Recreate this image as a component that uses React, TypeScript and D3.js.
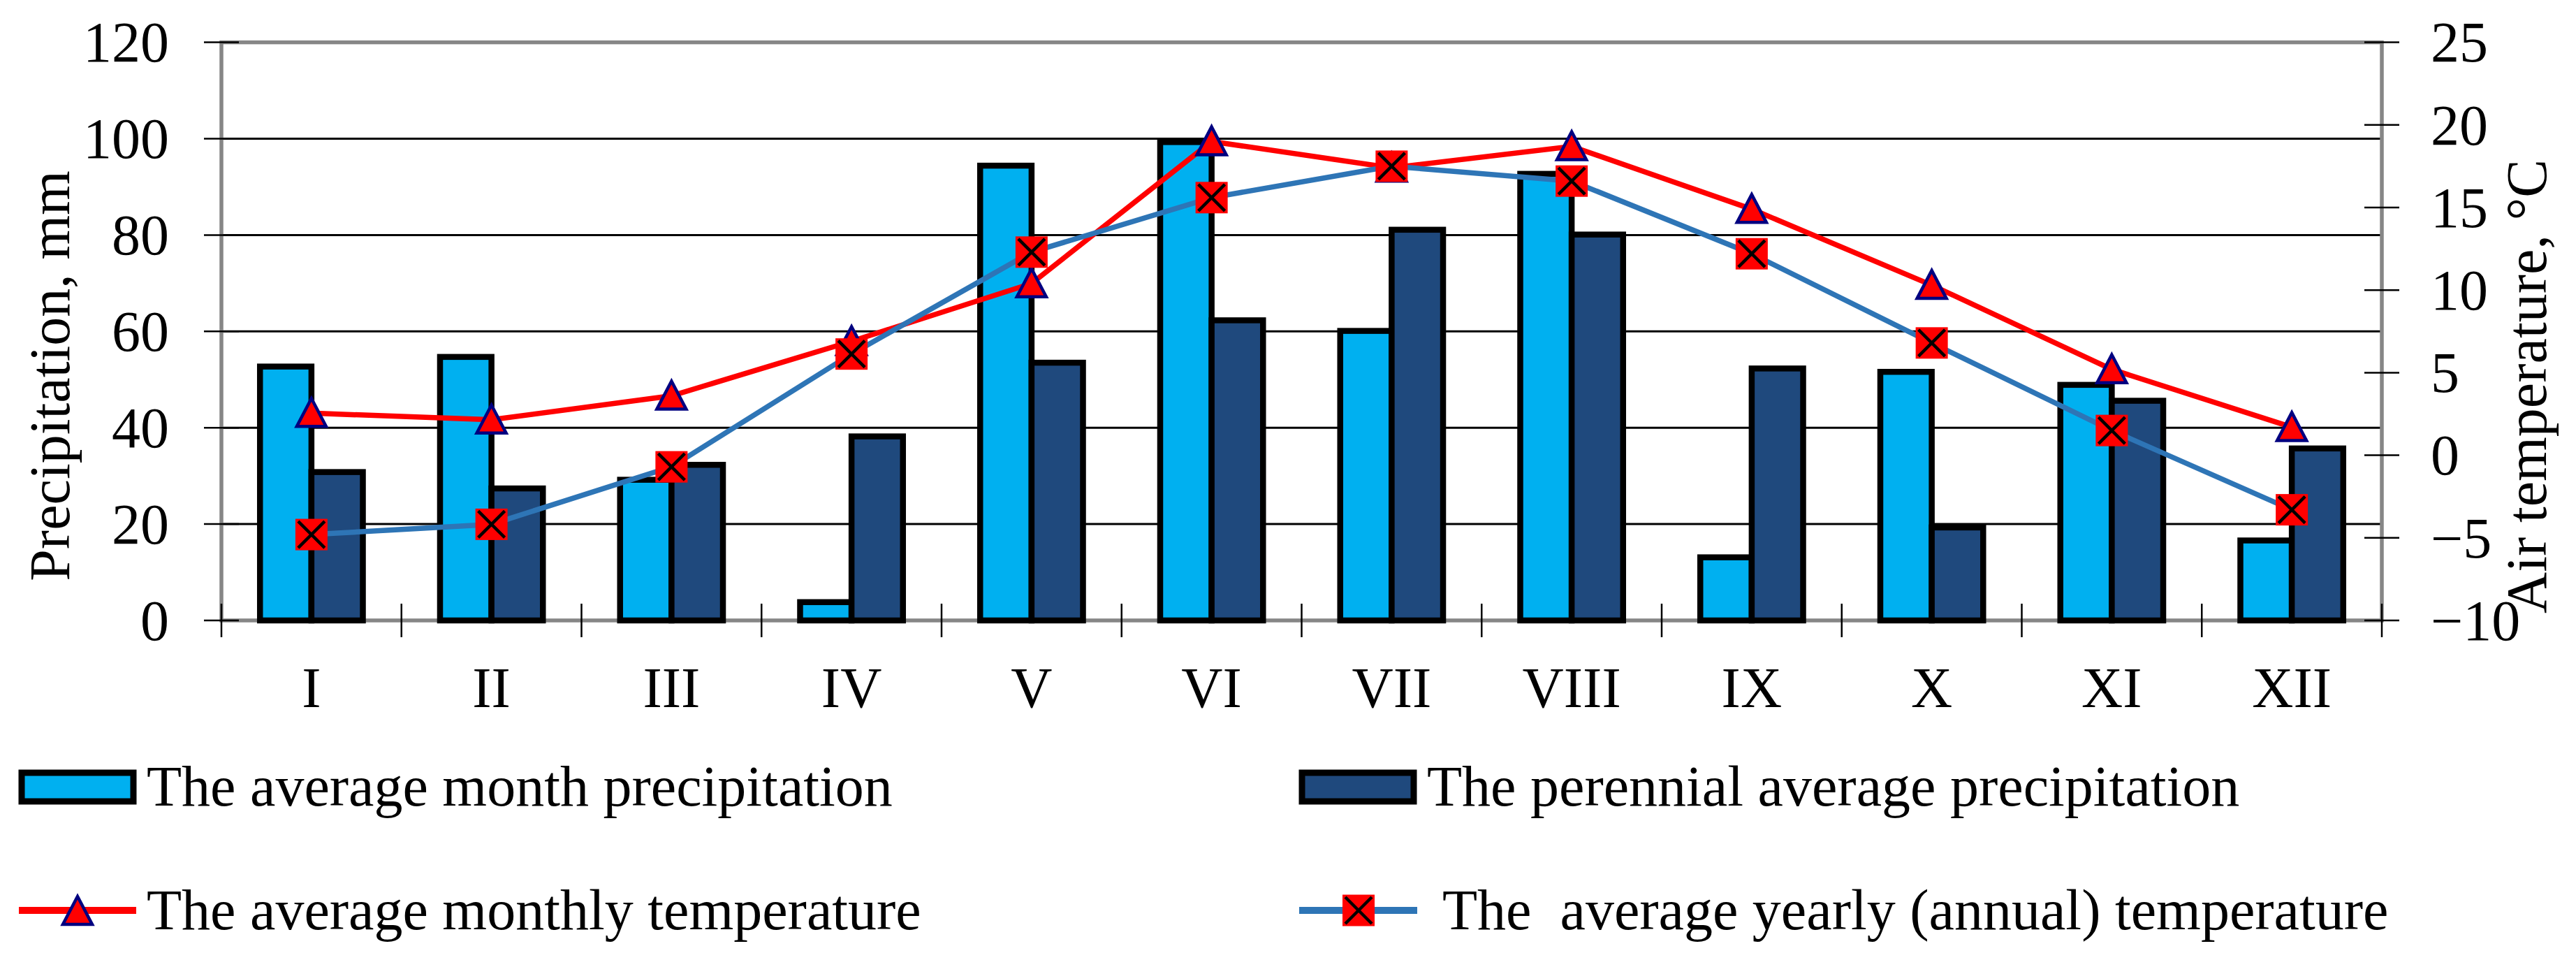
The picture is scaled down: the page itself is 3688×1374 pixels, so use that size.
// Precipitation & air temperature by month - bars + two temperature lines
import React, { useEffect, useRef } from 'react';
import * as d3 from 'd3';

const months = ['I', 'II', 'III', 'IV', 'V', 'VI', 'VII', 'VIII', 'IX', 'X', 'XI', 'XII'];
const monthPrecip = [52.7, 54.7, 29.2, 3.8, 94.4, 99.3, 60.1, 92.7, 13.1, 51.6, 48.9, 16.6];
const perennialPrecip = [30.8, 27.4, 32.3, 38.2, 53.5, 62.3, 81.1, 80.1, 52.3, 19.3, 45.6, 35.7];
const monthlyTemp = [2.55, 2.15, 3.6, 6.9, 10.4, 19.0, 17.4, 18.7, 14.9, 10.3, 5.2, 1.7];
const yearlyTemp = [-4.8, -4.18, -0.7, 6.13, 12.3, 15.6, 17.5, 16.6, 12.2, 6.8, 1.5, -3.3];
const precipTicks = [0, 20, 40, 60, 80, 100, 120];
const tempTicks = [-10, -5, 0, 5, 10, 15, 20, 25];

const W = 3688;
const H = 1374;
const FONT = '"Liberation Serif", "Times New Roman", serif';
const FS = 82;

const App: React.FC = () => {
  const svgRef = useRef<SVGSVGElement>(null);

  useEffect(() => {
    if (!svgRef.current) return;
    const svg = d3.select(svgRef.current);
    svg.selectAll('*').remove();

    const left = 317, right = 3410, top = 60.6, bottom = 888;

    const x = d3.scaleBand<string>().domain(months).range([left, right]).padding(0);
    const y = d3.scaleLinear().domain([0, 120]).range([bottom, top]);
    const yT = d3.scaleLinear().domain([-10, 25]).range([bottom, top]);
    const bw = x.bandwidth() / 3.5; // gap width 150%
    const xSub = d3.scaleBand<string>().domain(['m', 'p']).range([0, 2 * bw]).padding(0);
    const cx = (m: string) => (x(m) as number) + x.bandwidth() / 2;

    svg.append('rect').attr('width', W).attr('height', H).attr('fill', '#fff');

    // gridlines (black)
    svg.append('g').selectAll('line')
      .data(precipTicks.filter(t => t > 0 && t < 120))
      .enter().append('line')
      .attr('x1', left).attr('x2', right)
      .attr('y1', d => y(d)).attr('y2', d => y(d))
      .attr('stroke', '#000').attr('stroke-width', 3);

    // plot frame (gray)
    svg.append('rect')
      .attr('x', left).attr('y', top)
      .attr('width', right - left).attr('height', bottom - top)
      .attr('fill', 'none').attr('stroke', '#868686').attr('stroke-width', 5.5);

    // tick marks
    const ticks = svg.append('g').attr('stroke', '#000').attr('stroke-width', 2.5);
    precipTicks.forEach(t => {
      ticks.append('line').attr('x1', left - 25).attr('x2', left + 25).attr('y1', y(t)).attr('y2', y(t));
    });
    tempTicks.forEach(t => {
      ticks.append('line').attr('x1', right - 25).attr('x2', right + 25).attr('y1', yT(t)).attr('y2', yT(t));
    });
    d3.range(months.length + 1).forEach(i => {
      const xx = left + i * x.bandwidth();
      ticks.append('line').attr('x1', xx).attr('x2', xx).attr('y1', bottom - 24).attr('y2', bottom + 24);
    });

    // bars
    const series = [
      { key: 'm', values: monthPrecip, color: '#00B0F0' },
      { key: 'p', values: perennialPrecip, color: '#1F497D' }
    ];
    series.forEach(s => {
      svg.append('g').selectAll('rect')
        .data(months)
        .enter().append('rect')
        .attr('x', (m) => cx(m) - bw + (xSub(s.key) as number))
        .attr('y', (m, i) => y(s.values[i]))
        .attr('width', bw)
        .attr('height', (m, i) => bottom - y(s.values[i]))
        .attr('fill', s.color)
        .attr('stroke', '#000')
        .attr('stroke-width', 8.5);
    });

    const line = (vals: number[]) => d3.line<string>()
      .x(m => cx(m))
      .y((m, i) => yT(vals[i]))(months) as string;

    const triangle = (g: d3.Selection<SVGGElement, unknown, null, undefined>, px: number, py: number) => {
      g.append('path')
        .attr('d', `M${px},${py - 21}L${px + 21},${py + 19}L${px - 21},${py + 19}Z`)
        .attr('fill', '#FF0000')
        .attr('stroke', '#000080')
        .attr('stroke-width', 4.5)
        .attr('stroke-linejoin', 'miter');
    };
    const xSquare = (g: d3.Selection<SVGGElement, unknown, null, undefined>, px: number, py: number) => {
      g.append('rect')
        .attr('x', px - 23).attr('y', py - 22.5).attr('width', 46).attr('height', 45)
        .attr('fill', '#FF0000');
      g.append('path')
        .attr('d', `M${px - 19},${py - 19}L${px + 19},${py + 19}M${px + 19},${py - 19}L${px - 19},${py + 19}`)
        .attr('stroke', '#000').attr('stroke-width', 4.5);
    };

    // monthly temperature (red, triangles)
    const red = svg.append('g');
    red.append('path').attr('d', line(monthlyTemp))
      .attr('fill', 'none').attr('stroke', '#FF0000').attr('stroke-width', 7.5);
    months.forEach((m, i) => triangle(red, cx(m), yT(monthlyTemp[i])));

    // yearly temperature (blue, x-squares)
    const blue = svg.append('g');
    blue.append('path').attr('d', line(yearlyTemp))
      .attr('fill', 'none').attr('stroke', '#2E75B6').attr('stroke-width', 7.5);
    months.forEach((m, i) => xSquare(blue, cx(m), yT(yearlyTemp[i])));

    // axis labels
    const text = svg.append('g').attr('font-family', FONT).attr('font-size', FS).attr('fill', '#000');
    precipTicks.forEach(t => {
      text.append('text').attr('x', 242).attr('y', y(t)).attr('dy', '0.34em')
        .attr('text-anchor', 'end').text(t);
    });
    tempTicks.forEach(t => {
      text.append('text').attr('x', 3480).attr('y', yT(t)).attr('dy', '0.34em')
        .attr('text-anchor', 'start').text(t < 0 ? '\u2212' + Math.abs(t) : String(t));
    });
    months.forEach(m => {
      text.append('text').attr('x', cx(m)).attr('y', 1012)
        .attr('text-anchor', 'middle').text(m);
    });
    text.append('text')
      .attr('transform', 'translate(99,538) rotate(-90)')
      .attr('text-anchor', 'middle').text('Precipitation, mm');
    text.append('text')
      .attr('transform', 'translate(3645,553) rotate(-90)')
      .attr('text-anchor', 'middle').text('Air temperature, \u00B0C');

    // legend
    const legend = svg.append('g');
    const legendRow1 = [
      { x: 27, color: '#00B0F0', label: 'The average month precipitation' },
      { x: 1860, color: '#1F497D', label: 'The perennial average precipitation' }
    ];
    legendRow1.forEach(d => {
      legend.append('rect')
        .attr('x', d.x + 4).attr('y', 1106).attr('width', 160).attr('height', 41)
        .attr('fill', d.color).attr('stroke', '#000').attr('stroke-width', 9);
      text.append('text').attr('x', d.x + 183).attr('y', 1153)
        .style('white-space', 'pre').text(d.label);
    });
    legend.append('line').attr('x1', 27).attr('x2', 195).attr('y1', 1303).attr('y2', 1303)
      .attr('stroke', '#FF0000').attr('stroke-width', 10);
    triangle(legend, 111, 1304);
    text.append('text').attr('x', 210).attr('y', 1330)
      .style('white-space', 'pre').text('The average monthly temperature');
    legend.append('line').attr('x1', 1860).attr('x2', 2029).attr('y1', 1303).attr('y2', 1303)
      .attr('stroke', '#2E75B6').attr('stroke-width', 10);
    xSquare(legend, 1945, 1303);
    text.append('text').attr('x', 2065).attr('y', 1330)
      .style('white-space', 'pre').text('The  average yearly (annual) temperature');
    text.raise();
  }, []);

  return (
    <svg
      ref={svgRef}
      width={W}
      height={H}
      style={{ position: 'absolute', left: 0, top: 0, display: 'block' }}
    />
  );
};

export default App;
